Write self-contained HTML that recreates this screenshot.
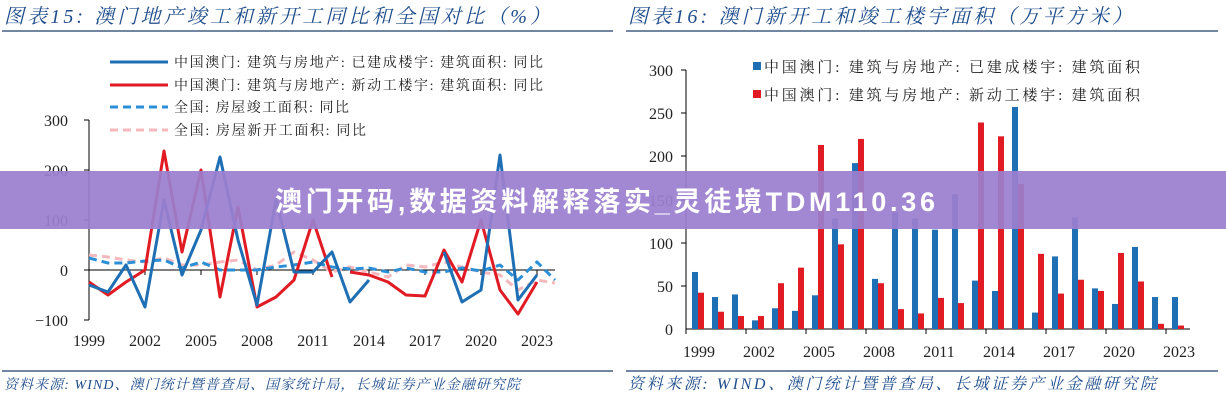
<!DOCTYPE html>
<html><head><meta charset="utf-8"><style>
body{margin:0;background:#fff;}
svg{display:block;font-family:"Liberation Serif","Noto Serif CJK SC",serif;}
.t{font-family:"Liberation Serif","Noto Serif CJK SC",serif;font-style:italic;fill:#1f4e8c;}
</style></head><body>
<svg width="1226" height="400" viewBox="0 0 1226 400" xmlns="http://www.w3.org/2000/svg">
<rect width="1226" height="400" fill="#fff"/>
<text class="t" x="4" y="23" font-size="20" textLength="546" lengthAdjust="spacing">图表15:  澳门地产竣工和新开工同比和全国对比（%）</text>
<text class="t" x="628" y="23" font-size="20" textLength="504" lengthAdjust="spacing">图表16:  澳门新开工和竣工楼宇面积（万平方米）</text>
<line x1="2" y1="31" x2="613" y2="31" stroke="#1f3f6a" stroke-width="1.2"/>
<line x1="626" y1="31" x2="1218" y2="31" stroke="#1f3f6a" stroke-width="1.2"/>
<line x1="2" y1="371" x2="613" y2="371" stroke="#1f3f6a" stroke-width="1.2"/>
<line x1="626" y1="371" x2="1218" y2="371" stroke="#1f3f6a" stroke-width="1.2"/>
<text class="t" x="4" y="389" font-size="14" textLength="516" lengthAdjust="spacing">资料来源:  WIND、澳门统计暨普查局、国家统计局，长城证券产业金融研究院</text>
<text class="t" x="628" y="389" font-size="16" textLength="528" lengthAdjust="spacing">资料来源:  WIND、澳门统计暨普查局、长城证券产业金融研究院</text>

<!-- left chart -->
<g font-size="16" fill="#222">
<line x1="89" y1="120" x2="89" y2="320" stroke="#000"/>
<line x1="84" y1="120" x2="89" y2="120" stroke="#000"/>
<line x1="84" y1="170" x2="89" y2="170" stroke="#000"/>
<line x1="84" y1="220" x2="89" y2="220" stroke="#000"/>
<line x1="84" y1="320" x2="89" y2="320" stroke="#000"/>
<line x1="84" y1="270" x2="555" y2="270" stroke="#000"/>
<g text-anchor="end"><text x="68" y="126">300</text><text x="68" y="176">200</text><text x="68" y="226">100</text><text x="68" y="276">0</text><text x="68" y="326">−100</text></g>
<g text-anchor="middle"><text x="89" y="346">1999</text><text x="145" y="346">2002</text><text x="201" y="346">2005</text><text x="257" y="346">2008</text><text x="313" y="346">2011</text><text x="369" y="346">2014</text><text x="425" y="346">2017</text><text x="481" y="346">2020</text><text x="537" y="346">2023</text></g>
<g stroke="#000"><line x1="145" y1="270" x2="145" y2="275"/><line x1="201" y1="270" x2="201" y2="275"/><line x1="257" y1="270" x2="257" y2="275"/><line x1="313" y1="270" x2="313" y2="275"/><line x1="369" y1="270" x2="369" y2="275"/><line x1="425" y1="270" x2="425" y2="275"/><line x1="481" y1="270" x2="481" y2="275"/><line x1="537" y1="270" x2="537" y2="275"/></g>
</g>
<g fill="none" stroke-width="3" stroke-linejoin="round">
<polyline stroke="#f4b8bd" stroke-dasharray="8,5" points="89,255 108,257 126,260 145,262 164,258 182,265 201,265 220,262 238,260 257,270 276,265 294,252 313,260 332,272 350,267 369,272 388,277 406,265 425,267 444,262 462,267 481,272 500,275 518,290 537,280 555,283"/>
<polyline stroke="#2a8fd6" stroke-dasharray="8,5" points="89,258 108,263 126,263 145,261 164,260 182,268 201,262 220,270 238,270 257,270 276,267 294,265 313,262 332,267 350,269 369,268 388,272 406,268 425,272 444,272 462,268 481,271 500,265 518,280 537,262 555,280"/>
<polyline stroke="#e01b24" points="89,282 108,295 126,282 145,270 164,151 182,252 201,170 220,297 238,207 257,307 276,297 294,280 313,220 332,277"/>
<polyline stroke="#e01b24" points="350,272 369,275 388,282 406,295 425,296 444,250 462,282 481,220 500,290 518,314 537,282"/>
<polyline stroke="#1f6fb5" points="89,285 108,292 126,265 145,307 164,200 182,275 201,230 220,157 238,240 257,305 276,200 294,272 313,272 332,252 350,302 369,280"/>
<polyline stroke="#1f6fb5" points="444,252 462,302 481,290 500,155 518,300 537,275"/>
</g>
<g font-size="14" fill="#222">
<line x1="110" y1="62" x2="168" y2="62" stroke="#1f6fb5" stroke-width="3"/><text x="174" y="67" textLength="369" lengthAdjust="spacing">中国澳门: 建筑与房地产: 已建成楼宇: 建筑面积: 同比</text>
<line x1="110" y1="85" x2="168" y2="85" stroke="#e01b24" stroke-width="3"/><text x="174" y="90" textLength="369" lengthAdjust="spacing">中国澳门: 建筑与房地产: 新动工楼宇: 建筑面积: 同比</text>
<line x1="110" y1="107" x2="168" y2="107" stroke="#2a8fd6" stroke-width="3" stroke-dasharray="8,5"/><text x="174" y="112" textLength="175" lengthAdjust="spacing">全国: 房屋竣工面积: 同比</text>
<line x1="110" y1="130" x2="168" y2="130" stroke="#f4b8bd" stroke-width="3" stroke-dasharray="8,5"/><text x="174" y="135" textLength="192" lengthAdjust="spacing">全国: 房屋新开工面积: 同比</text>
</g>

<!-- right chart -->
<g font-size="16" fill="#222">
<line x1="686" y1="70" x2="686" y2="329" stroke="#000"/>
<line x1="686" y1="329" x2="1190" y2="329" stroke="#000"/>
<g stroke="#000"><line x1="681" y1="70" x2="686" y2="70"/><line x1="681" y1="113" x2="686" y2="113"/><line x1="681" y1="156" x2="686" y2="156"/><line x1="681" y1="200" x2="686" y2="200"/><line x1="681" y1="243" x2="686" y2="243"/><line x1="681" y1="286" x2="686" y2="286"/>
<line x1="686" y1="329" x2="686" y2="334"/><line x1="746" y1="329" x2="746" y2="334"/><line x1="806" y1="329" x2="806" y2="334"/><line x1="866" y1="329" x2="866" y2="334"/><line x1="926" y1="329" x2="926" y2="334"/><line x1="986" y1="329" x2="986" y2="334"/><line x1="1046" y1="329" x2="1046" y2="334"/><line x1="1106" y1="329" x2="1106" y2="334"/><line x1="1166" y1="329" x2="1166" y2="334"/></g>
<g text-anchor="end"><text x="673" y="76">300</text><text x="673" y="119">250</text><text x="673" y="162">200</text><text x="673" y="206">150</text><text x="673" y="249">100</text><text x="673" y="292">50</text><text x="673" y="335">0</text></g>
<g text-anchor="middle"><text x="699" y="357">1999</text><text x="759" y="357">2002</text><text x="819" y="357">2005</text><text x="879" y="357">2008</text><text x="939" y="357">2011</text><text x="999" y="357">2014</text><text x="1059" y="357">2017</text><text x="1119" y="357">2020</text><text x="1179" y="357">2023</text></g>
</g>
<g id="bars"></g>
<g font-size="15" fill="#222">
<rect x="753" y="62" width="8" height="8" fill="#1f6fb5"/><text x="764" y="72" textLength="376" lengthAdjust="spacing">中国澳门: 建筑与房地产: 已建成楼宇: 建筑面积</text>
<rect x="753" y="90" width="8" height="8" fill="#e01b24"/><text x="764" y="100" textLength="376" lengthAdjust="spacing">中国澳门: 建筑与房地产: 新动工楼宇: 建筑面积</text>
</g>

<!-- banner -->
<rect x="0" y="171" width="1226" height="58" fill="#9b7fcf" opacity="0.93"/>
<text x="605" y="211" text-anchor="middle" font-size="27" font-weight="bold" fill="#fff" font-family="Liberation Sans, Noto Sans CJK SC, sans-serif" textLength="660" lengthAdjust="spacing">澳门开码,数据资料解释落实_灵徒境TDM110.36</text>
</svg>
<script>
var b=[66,37,40,10,24,21,39,128,192,58,135,128,115,156,56,44,257,19,84,129,47,29,95,37,37];
var r=[42,20,15,15,53,71,213,98,220,53,23,18,36,30,239,223,168,87,41,57,44,88,55,6,4];
var g=document.getElementById('bars'),s='',k=0.864;
for(var i=0;i<25;i++){var x=692+i*20;
s+='<rect x="'+x+'" y="'+(329-b[i]*k)+'" width="6" height="'+(b[i]*k)+'" fill="#1f6fb5"/>';
s+='<rect x="'+(x+6)+'" y="'+(329-r[i]*k)+'" width="6" height="'+(r[i]*k)+'" fill="#e01b24"/>';}
g.innerHTML=s;
</script>
</body></html>
